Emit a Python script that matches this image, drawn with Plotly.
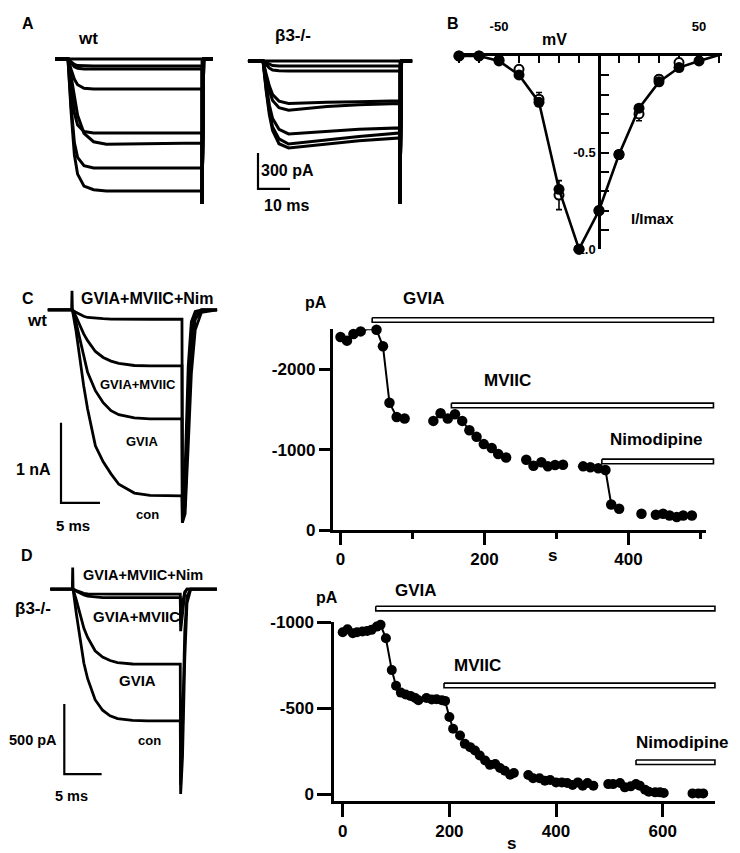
import plotly.graph_objects as go

# page placement: the picture lands ~8 px right; vertically it comes out as 0.978*(y + 16.4)
OFF_X = 8
Y_SCALE, Y_SHIFT = 0.978, 16.4
W, H = 732, 855
FONT = "Liberation Sans, Arial, sans-serif"
INK = "black"

# ---------------- A: current families (ms, pA)
a_wt_t = [-4, 0, 1, 2, 3, 5, 8, 12, 20, 30, 41.9, 41.9, 42.4, 45.3]
a_wt_i = [
    [0, 0, 0, 0, 0, 0, 0, 0, 0, 0, 0, -1208, 0, 0],
    [0, 0, -25, -45, -55, -58, -58, -58, -58, -58, -58, -1208, 0, 0],
    [0, 0, -35, -65, -78, -83, -83, -83, -83, -83, -83, -1208, 0, 0],
    [0, 0, -90, -170, -215, -245, -250, -252, -250, -250, -250, -1208, 0, 0],
    [0, 0, -250, -450, -550, -605, -617, -617, -617, -617, -617, -1208, 0, 0],
    [0, 0, -150, -330, -470, -620, -690, -710, -708, -708, -700, -1208, 0, 0],
    [0, 0, -400, -700, -820, -890, -908, -908, -908, -908, -908, -1208, 0, 0],
    [0, 0, -450, -800, -960, -1060, -1090, -1100, -1100, -1100, -1100, -1208, 0, 0],
]
a_b3_t = [-4.7, 0, 1, 2, 3, 5, 8, 12, 20, 30, 42.8, 42.8, 43.3, 46.6]
a_b3_i = [
    [0, 0, 0, 0, 0, 0, 0, 0, 0, 0, 0, -1192, 0, 0],
    [0, 0, -15, -30, -38, -42, -42, -42, -42, -42, -42, -1192, 0, 0],
    [0, 0, -30, -60, -75, -82, -83, -83, -83, -83, -83, -1192, 0, 0],
    [0, 0, -110, -210, -280, -335, -355, -350, -345, -340, -333, -1192, 0, 0],
    [0, 0, -130, -250, -330, -390, -410, -400, -380, -365, -355, -1192, 0, 0],
    [0, 0, -200, -370, -480, -570, -608, -600, -585, -570, -558, -1192, 0, 0],
    [0, 0, -230, -420, -550, -650, -692, -680, -655, -630, -600, -1192, 0, 0],
    [0, 0, -250, -450, -580, -690, -725, -715, -690, -665, -642, -1192, 0, 0],
]
a_scalebar = (10, 300)  # ms, pA

# ---------------- B: I-V relation
b_mv = [-70, -60, -50, -40, -30, -20, -10, 0, 10, 20, 30, 40, 50, 60]
b_filled = [0, 0, -0.026, -0.098, -0.24, -0.69, -1.0, -0.80, -0.51, -0.27, -0.134, -0.06, -0.026, 0.005]
b_open = [0, 0, -0.02, -0.069, -0.224, -0.72, -1.0, -0.80, -0.51, -0.30, -0.12, -0.034, 0.026, 0.005]
b_open_err = [0, 0, 0, 0.01, 0.035, 0.075, 0, 0, 0.01, 0.035, 0.02, 0.02, 0.03, 0]

# ---------------- C left: wt traces (ms, pA)
c_t = [-3.1, -0.05, 0, 0.05, 0.5, 1, 1.5, 2, 3, 4, 5, 6, 8, 10, 14.1,
       14.15, 14.5, 14.9, 15.3, 15.8, 16.6, 18.6]
c_con = [0, 0, 240, 0, -250, -620, -950, -1240, -1700, -1900, -2050, -2180, -2290, -2320, -2325,
         -2660, -2550, -1700, -800, -250, -30, 0]
c_gvia = [0, 0, 0, 0, -150, -370, -600, -780, -1010, -1160, -1260, -1310, -1350, -1362, -1362,
          -2660, -2450, -1300, -500, -120, 0, 0]
c_mviic = [0, 0, 0, 0, -80, -190, -300, -385, -520, -595, -640, -668, -695, -700, -700,
           -2600, -2300, -1000, -300, -60, 0, 0]
c_nim = [0, 0, 0, 0, -30, -60, -80, -95, -105, -110, -115, -117, -117, -117, -117,
         -2500, -2000, -700, -150, -20, 0, 0]
c_scalebar = (5, 1000)

# ---------------- C right: wt time course (s, pA)
c_time = [0, 9, 18, 28, 38, 50, 59, 68, 78, 89, None,
          129, 139, 149, 159, 169, 179, 189, 199, 210, 219, 230, None,
          258, 268, 279, 288, 298, 309, None,
          337, 347, 358, 368, 376, 387, None,
          418, None,
          438, 448, 457, 467, 476, 488, None,
          508]
c_amp = [-2399, -2354, -2436, -2469, -2498, -2490, -2284, -1584, -1407, -1387, None,
         -1358, -1453, -1387, -1440, -1358, -1243, -1160, -1070, -1021, -947, -905, None,
         -877, -802, -844, -794, -811, -815, None,
         -794, -782, -770, -749, -321, -267, None,
         -206, None,
         -193, -206, -185, -165, -185, -185, None,
         -173]
c_drug = ["GVIA", "MVIIC", "Nimodipine"]
c_drug_on = [44, 154, 363]
c_drug_off = [518, 518, 518]
c_drug_level = [-2610, -1550, -855]

# ---------------- D left: beta3-/- traces (ms, pA)
d_t = [-3.0, -0.05, 0, 0.05, 0.5, 1, 1.5, 2, 3, 4, 5, 6, 8, 10, 14.4,
       14.45, 14.7, 15.0, 15.3, 15.8, 19.3]
d_con = [0, 0, 154, 0, -180, -370, -530, -640, -790, -865, -905, -925, -938, -941, -941,
         -1464, -1200, -500, -100, 0, 0]
d_gvia = [0, 0, 0, 0, -80, -190, -280, -345, -440, -485, -510, -525, -535, -536, -536,
          -1400, -1000, -300, -50, 0, 0]
d_mviic = [0, 0, 0, 0, -15, -30, -42, -50, -57, -60, -60, -60, -60, -60, -60,
           -300, -150, -30, 0, 0, 0]
d_nim = [0, 0, 0, 0, -10, -22, -30, -34, -36, -36, -36, -36, -36, -36, -36,
         -250, -100, -20, 0, 0, 0]
d_scalebar = (5, 500)

# ---------------- D right: beta3-/- time course (s, pA)
d_time = [0, 9, 19, 27, 37, 46, 54, 64, 71, 81, 92, 100, 109, 118, 127, 136, 142, None,
          157, 167, 176, 186, 192, 200, 207, 220, 229, 239, 248, 257, 267, 276, 286, 295, 304, 314, 321, None,
          348, 357, 369, 379, 389, 400, 411, 421, 431, 441, 450, 459, 470, None,
          498, 507, 520, 529, 540, 550, 557, 567, 574, 586, 595, 602, None,
          656, 667, 676]
d_amp = [-941, -959, -936, -941, -945, -949, -955, -974, -984, -906, -721, -630, -590, -579, -571, -559, -546, None,
         -559, -550, -552, -546, -542, -448, -380, -341, -292, -273, -253, -224, -195, -170, -175, -152, -136, -113, -123, None,
         -111, -92, -92, -78, -82, -68, -68, -64, -53, -68, -49, -64, -49, None,
         -58, -58, -64, -39, -45, -58, -49, -25, -14, -10, -10, -6, None,
         -4, -4, -4]
d_drug_on = [62, 190, 550]
d_drug_off = [698, 698, 698]
d_drug_level = [-1079, -632, -185]

# ---------------- target pixel layout of each panel: box (x0, x1, y0, y1), origin px, px per unit
P = {
    "a1": dict(ax="", box=(45, 220, 28, 215), ox=68, sx=3.2, oy=58, sy=0.12),
    "a2": dict(ax="2", box=(240, 420, 28, 215), ox=263, sx=3.2, oy=60, sy=0.12),
    "b": dict(ax="3", box=(457, 722, 55, 248.3), ox=599, sx=2.0, oy=55, sy=193.3),
    "c1": dict(ax="4", box=(40, 225, 280, 530), ox=72, sx=7.8, oy=309, sy=0.08),
    "c2": dict(ax="5", box=(332.5, 706, 328.3, 529.5), ox=340.5, sx=0.72, oy=529.5, sy=-0.0806),
    "c3": dict(ax="6", box=(332.5, 725, 280, 529.5), ox=340.5, sx=0.72, oy=529.5, sy=-0.0806),
    "d1": dict(ax="7", box=(40, 225, 555, 800), ox=72.7, sx=7.47, oy=588.3, sy=0.14),
    "d2": dict(ax="8", box=(334, 715, 621.3, 800), ox=342.7, sx=0.5333, oy=793.3, sy=-0.172),
    "d3": dict(ax="9", box=(334, 725, 560, 800), ox=342.7, sx=0.5333, oy=793.3, sy=-0.172),
}


def fx(px):
    return (px - OFF_X) / W


def fy(py):
    return 1 - (py / Y_SCALE - Y_SHIFT) / H


def axis_pair(p):
    x0, x1, y0, y1 = p["box"]
    xa = dict(domain=[fx(x0), fx(x1)], range=[(x0 - p["ox"]) / p["sx"], (x1 - p["ox"]) / p["sx"]],
              anchor="y" + p["ax"], showgrid=False, zeroline=False, fixedrange=True)
    ya = dict(domain=[fy(y1), fy(y0)], range=[(p["oy"] - y1) / p["sy"], (p["oy"] - y0) / p["sy"]],
              anchor="x" + p["ax"], showgrid=False, zeroline=False, fixedrange=True)
    return xa, ya


def to_data(p, px, py):
    return (px - p["ox"]) / p["sx"], (p["oy"] - py) / p["sy"]


def line(p, x, y, width=2.6, **kw):
    return go.Scatter(x=x, y=y, xaxis="x" + p["ax"], yaxis="y" + p["ax"], mode="lines",
                      line=dict(color=INK, width=width), hoverinfo="skip", **kw)


def ann(text, px, py, size, xanchor="center"):
    return dict(x=fx(px), y=min(fy(py), 1 - 7 / H), xref="paper", yref="paper",
                text="<b>" + text + "</b>", showarrow=False, xanchor=xanchor, yanchor="middle",
                font=dict(family=FONT, size=size, color=INK))


fig = go.Figure()
layout_axes = {}
for key, p in P.items():
    xa, ya = axis_pair(p)
    layout_axes["xaxis" + p["ax"]] = xa
    layout_axes["yaxis" + p["ax"]] = ya

# hidden axes for traces and bar overlays
for key in ["a1", "a2", "c1", "d1", "c3", "d3"]:
    layout_axes["xaxis" + P[key]["ax"]]["visible"] = False
    layout_axes["yaxis" + P[key]["ax"]]["visible"] = False

# A traces
for tr in a_wt_i:
    fig.add_trace(line(P["a1"], a_wt_t, tr, width=3))
for tr in a_b3_i:
    fig.add_trace(line(P["a2"], a_b3_t, tr, width=3))
cx, cy = to_data(P["a2"], 258, 188)
fig.add_trace(line(P["a2"], [cx, cx, cx + a_scalebar[0]], [cy + a_scalebar[1], cy, cy], width=2.2))

# B
fig.add_trace(go.Scatter(x=b_mv, y=b_open, xaxis="x3", yaxis="y3", mode="markers", cliponaxis=False,
                         marker=dict(symbol="circle", size=9, color="white", line=dict(color=INK, width=2)),
                         error_y=dict(type="data", array=b_open_err, color=INK, thickness=1.6, width=3),
                         hoverinfo="skip"))
fig.add_trace(go.Scatter(x=b_mv, y=b_filled, xaxis="x3", yaxis="y3", mode="lines+markers", cliponaxis=False,
                         line=dict(color=INK, width=2.6), marker=dict(size=11, color=INK),
                         hoverinfo="skip"))

# C left
for tr in [c_con, c_gvia, c_mviic, c_nim]:
    fig.add_trace(line(P["c1"], c_t, tr, width=2.8))
cx, cy = to_data(P["c1"], 61, 502)
fig.add_trace(line(P["c1"], [cx, cx, cx + c_scalebar[0]], [cy + c_scalebar[1], cy, cy], width=2.2))

# D left
for tr in [d_con, d_gvia, d_mviic, d_nim]:
    fig.add_trace(line(P["d1"], d_t, tr, width=2.8))
cx, cy = to_data(P["d1"], 64.3, 773.3)
fig.add_trace(line(P["d1"], [cx, cx, cx + d_scalebar[0]], [cy + d_scalebar[1], cy, cy], width=2.2))


def drug_bars(p, on, off, level):
    half = 2.3 / abs(p["sy"])
    for s, e, lv in zip(on, off, level):
        fig.add_trace(go.Scatter(x=[s, e, e, s, s], y=[lv - half, lv - half, lv + half, lv + half, lv - half],
                                 xaxis="x" + p["ax"], yaxis="y" + p["ax"], mode="lines", fill="toself",
                                 fillcolor="white", line=dict(color=INK, width=1.6), hoverinfo="skip"))


# C right and D right
drug_bars(P["c3"], c_drug_on, c_drug_off, c_drug_level)
drug_bars(P["d3"], d_drug_on, d_drug_off, d_drug_level)
fig.add_trace(go.Scatter(x=c_time, y=c_amp, xaxis="x5", yaxis="y5", mode="lines+markers", cliponaxis=False,
                         line=dict(color=INK, width=2), marker=dict(size=10.5, color=INK), hoverinfo="skip"))
fig.add_trace(go.Scatter(x=d_time, y=d_amp, xaxis="x8", yaxis="y8", mode="lines+markers", cliponaxis=False,
                         line=dict(color=INK, width=2), marker=dict(size=10, color=INK), hoverinfo="skip"))

tick_font = dict(family=FONT, size=17, color=INK, weight="bold")
small_tick = dict(family=FONT, size=13, color=INK, weight="bold")

# B axes
layout_axes["xaxis3"].update(side="top", showline=True, linewidth=2.5, linecolor=INK, ticks="inside",
                             ticklen=7, tickwidth=2, tickcolor=INK, layer="below traces",
                             tickmode="array", tickvals=b_mv,
                             ticktext=["" if v not in (-50, 50) else str(v) for v in b_mv],
                             ticklabelstandoff=17, tickfont=small_tick)
b_yt = [-1.0, -0.9, -0.8, -0.7, -0.6, -0.5, -0.4, -0.3, -0.2, -0.1]
layout_axes["yaxis3"].update(anchor="free", position=fx(599), side="left", showline=True,
                             linewidth=2.5, linecolor=INK, ticks="inside", ticklen=8, tickwidth=2,
                             tickcolor=INK, layer="below traces", tickmode="array", tickvals=b_yt,
                             ticktext=["-1.0", "", "", "", "", "-0.5", "", "", "", ""],
                             tickfont=small_tick)

# C right axes
layout_axes["xaxis5"].update(showline=True, linewidth=2.5, linecolor=INK, ticks="outside", ticklen=12,
                             tickwidth=2.5, tickcolor=INK, tickmode="array", tickvals=[0, 200, 400],
                             ticktext=["0", "200", "400"], tickfont=tick_font,
                             minor=dict(tickmode="array", tickvals=[100, 300, 500], ticks="outside",
                                        ticklen=6, tickwidth=2.5, tickcolor=INK))
layout_axes["yaxis5"].update(showline=True, linewidth=2.5, linecolor=INK, ticks="outside", ticklen=11,
                             tickwidth=2.5, tickcolor=INK, tickmode="array", tickvals=[-2000, -1000, 0],
                             ticktext=["-2000", "-1000", "0"], tickfont=tick_font)
# D right axes
layout_axes["xaxis8"].update(showline=True, linewidth=2.5, linecolor=INK, ticks="outside", ticklen=13,
                             tickwidth=2.5, tickcolor=INK, tickmode="array", tickvals=[0, 200, 400, 600],
                             ticktext=["0", "200", "400", "600"], tickfont=tick_font)
layout_axes["yaxis8"].update(showline=True, linewidth=2.5, linecolor=INK, ticks="outside", ticklen=14,
                             tickwidth=2.5, tickcolor=INK, tickmode="array", tickvals=[-1000, -500, 0],
                             ticktext=["-1000", "-500", "0"], tickfont=tick_font)

annotations = [
    ann("A", 27.5, 16, 16), ann("wt", 87.5, 37.5, 17), ann("β3-/-", 293, 35, 17),
    ann("300 pA", 259, 170, 16, "left"), ann("10 ms", 262, 205, 16, "left"),
    ann("B", 452.5, 16, 16), ann("mV", 554, 39, 16), ann("I/Imax", 652.5, 217.5, 15),
    ann("C", 28, 298, 16), ann("wt", 36.7, 320, 17), ann("GVIA+MVIIC+Nim", 147.3, 297.5, 16),
    ann("GVIA+MVIIC", 137.5, 383.7, 13), ann("GVIA", 141.7, 440.3, 13), ann("con", 147.5, 514, 13),
    ann("1 nA", 33.8, 468.3, 16), ann("5 ms", 72.5, 525, 15),
    ann("pA", 315.8, 302, 16), ann(c_drug[0], 424, 297.5, 17), ann(c_drug[1], 507.5, 379.7, 17),
    ann(c_drug[2], 656.7, 439, 17), ann("s", 552, 555, 17),
    ann("D", 26.7, 555, 16), ann("β3-/-", 32.5, 607.5, 17), ann("GVIA+MVIIC+Nim", 143.3, 574, 14.5),
    ann("GVIA+MVIIC", 136.7, 616, 15), ann("GVIA", 137.8, 680, 15), ann("con", 149.7, 740, 13),
    ann("500 pA", 32.5, 739, 14.5), ann("5 ms", 71.7, 795, 14.5),
    ann("pA", 326.7, 596.7, 16), ann(c_drug[0], 415.8, 590, 17), ann(c_drug[1], 477.5, 665, 17),
    ann(c_drug[2], 682, 741.7, 17), ann("s", 511.7, 843, 17),
]

fig.update_layout(width=W, height=H, margin=dict(l=0, r=0, t=0, b=0), showlegend=False,
                  paper_bgcolor="white", plot_bgcolor="rgba(0,0,0,0)", font=dict(family=FONT, color=INK),
                  annotations=annotations, **layout_axes)

fig.write_html("out.html")
